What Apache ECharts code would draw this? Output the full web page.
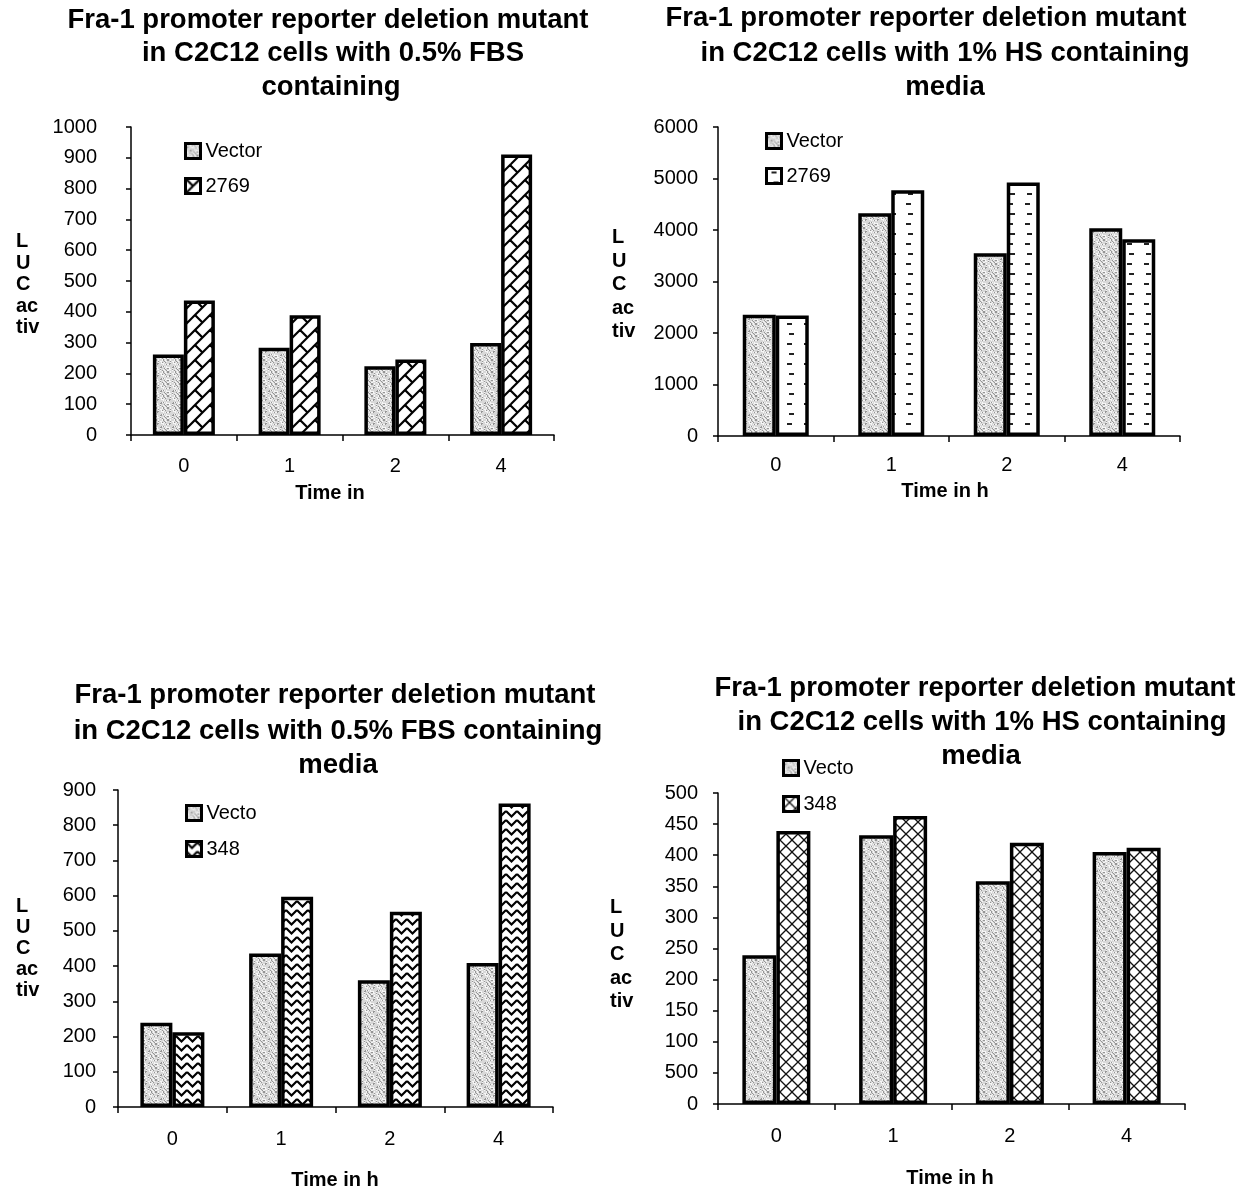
<!DOCTYPE html>
<html>
<head>
<meta charset="utf-8">
<title>Fra-1 promoter reporter deletion mutant</title>
<script src="https://cdn.jsdelivr.net/npm/echarts@6/dist/echarts.min.js"></script>
<style>
  html, body { margin: 0; padding: 0; background: #fff; }
  .panel { position: absolute; left: 0; top: 0; width: 1244px; height: 1191px; }
</style>
</head>
<body>
<div id="fbs2769" class="panel"></div>
<div id="hs2769" class="panel"></div>
<div id="fbs348" class="panel"></div>
<div id="hs348" class="panel"></div>

<script>
  // time points (h)
  var categories = ['0', '1', '2', '4']

  // 0.5% FBS, 2769 construct
  var fbs2769Vector = [261, 283, 223, 299]
  var fbs2769Mutant = [437, 389, 245, 911]
  // 1% HS, 2769 construct
  var hs2769Vector = [2355, 4323, 3548, 4032]
  var hs2769Mutant = [2342, 4774, 4923, 3819]
  // 0.5% FBS, 348 construct
  var fbs348Vector = [239, 436, 360, 409]
  var fbs348Mutant = [212, 597, 554, 862]
  // 1% HS, 348 construct
  var hs348Vector = [239, 432, 358, 405]
  var hs348Mutant = [439, 463, 420, 412]

  // the original prints "500" where 50 should be
  var hs348TickLabels = ['0', '500', '100', '150', '200', '250', '300', '350', '400', '450', '500']

  var FONT = '"Liberation Sans", Arial, sans-serif'

  // ---------- fill patterns ----------
  function canvasOf(w, h) {
    var c = document.createElement('canvas')
    c.width = w
    c.height = h
    var ctx = c.getContext('2d')
    ctx.fillStyle = '#fff'
    ctx.fillRect(0, 0, w, h)
    return c
  }

  function wrapLine(ctx, w, h, x1, y1, x2, y2) {
    for (var dx = -1; dx <= 1; dx++) {
      for (var dy = -1; dy <= 1; dy++) {
        ctx.beginPath()
        ctx.moveTo(x1 + dx * w, y1 + dy * h)
        ctx.lineTo(x2 + dx * w, y2 + dy * h)
        ctx.stroke()
      }
    }
  }

  // grey stipple used for the Vector bars
  function stipple() {
    var c = canvasOf(12, 12)
    var ctx = c.getContext('2d')
    ctx.fillStyle = '#d8d8d8'
    ctx.fillRect(0, 0, 12, 12)
    for (var y = 0; y < 12; y++) {
      for (var x = 0; x < 12; x++) {
        var k = (x * 7 + y * 13 + x * y * 3) % 11
        if (k === 0 || k === 5) {
          ctx.fillStyle = '#959595'
          ctx.fillRect(x, y, 1, 1)
        } else if (k === 3 || k === 8 || k === 9) {
          ctx.fillStyle = '#f6f6f6'
          ctx.fillRect(x, y, 1, 1)
        }
      }
    }
    return c
  }

  // diagonal brick
  function brick() {
    var W = 30
    var c = canvasOf(W, W)
    var ctx = c.getContext('2d')
    ctx.strokeStyle = '#000'
    ctx.lineWidth = 2.2
    for (var k = -W; k <= 3 * W; k += W / 2) {
      ctx.beginPath()
      ctx.moveTo(k + W, -W)
      ctx.lineTo(-W, k + W)
      ctx.stroke()
    }
    function seg(a, s) {
      wrapLine(ctx, W, W, (a - s) / 2, (a + s) / 2, (a + W / 2 - s) / 2, (a + W / 2 + s) / 2)
    }
    seg(0, 0)
    seg(0, W)
    seg(W / 2, W / 2)
    seg(W / 2, -W / 2)
    return c
  }

  // small dashes, staggered rows
  function dashes() {
    var c = canvasOf(17, 20)
    var ctx = c.getContext('2d')
    ctx.fillStyle = '#222'
    ctx.fillRect(5, 3, 5, 2)
    ctx.fillRect(7, 13, 5, 2)
    return c
  }

  // zigzag rows
  function zigzag() {
    var c = canvasOf(11, 9)
    var ctx = c.getContext('2d')
    ctx.strokeStyle = '#000'
    ctx.lineWidth = 2.2
    for (var dy = -9; dy <= 9; dy += 9) {
      ctx.beginPath()
      ctx.moveTo(0, 1 + dy)
      ctx.lineTo(5.5, 6.5 + dy)
      ctx.lineTo(11, 1 + dy)
      ctx.stroke()
    }
    return c
  }

  // cross hatch
  function crosshatch() {
    var W = 12
    var c = canvasOf(W, W)
    var ctx = c.getContext('2d')
    ctx.strokeStyle = '#111'
    ctx.lineWidth = 1.3
    wrapLine(ctx, W, W, 0, 0, W, W)
    wrapLine(ctx, W, W, W, 0, 0, W)
    return c
  }

  function pattern(c) {
    return { image: c, repeat: 'repeat' }
  }

  // ---------- one panel ----------
  function textEl(x, y, text, size, weight, align, lh) {
    return {
      type: 'text',
      x: x,
      y: y,
      silent: true,
      style: {
        text: text,
        fill: '#000',
        font: weight + ' ' + size + 'px ' + FONT,
        textAlign: align,
        textVerticalAlign: lh ? 'top' : 'middle',
        lineHeight: lh || size
      }
    }
  }

  function drawPanel(id, p) {
    var chart = echarts.init(document.getElementById(id))
    var graphic = []
    p.titles.forEach(function (t) {
      graphic.push(textEl(t[0], t[1], t[2], 27.5, 'bold', 'center'))
    })
    graphic.push(textEl(p.yName[0], p.yName[1], 'L\nU\nC\nac\ntiv', 20, 'bold', 'left', p.yName[2]))
    graphic.push(textEl(p.xName[0], p.xName[1], p.xName[2], 20, 'bold', 'center'))

    var option = {
      animation: false,
      grid: {
        left: p.grid[0], top: p.grid[1], width: p.grid[2], height: p.grid[3],
        outerBoundsMode: 'none'
      },
      legend: {
        orient: 'vertical',
        left: p.legend[0],
        top: p.legend[1],
        itemGap: p.legend[2],
        itemWidth: 15,
        itemHeight: 15,
        icon: 'rect',
        selectedMode: false,
        padding: 0,
        itemStyle: { borderColor: '#000', borderWidth: 3 },
        textStyle: { fontFamily: FONT, fontSize: 20, color: '#000', lineHeight: 15 },
        data: p.names
      },
      xAxis: {
        type: 'category',
        data: categories,
        axisLine: { lineStyle: { color: '#000', width: 1.5 } },
        axisTick: { show: true, length: 6, lineStyle: { color: '#000', width: 1.5 } },
        axisLabel: { color: '#000', fontFamily: FONT, fontSize: 20, margin: p.xMargin }
      },
      yAxis: {
        type: 'value',
        min: 0,
        max: p.max,
        interval: p.interval,
        splitLine: { show: false },
        axisLine: { show: true, lineStyle: { color: '#000', width: 1.5 } },
        axisTick: { show: true, length: 5, lineStyle: { color: '#000', width: 1.5 } },
        axisLabel: {
          color: '#000', fontFamily: FONT, fontSize: 20, margin: p.yMargin,
          formatter: function (v) {
            return p.tickLabels ? p.tickLabels[Math.round(v / p.interval)] : String(v)
          }
        }
      },
      series: p.values.map(function (vals, i) {
        return {
          name: p.names[i],
          type: 'bar',
          data: vals,
          barWidth: p.barWidth,
          barGap: '0%',
          emphasis: { disabled: true },
          itemStyle: { color: pattern(p.fills[i]), borderColor: '#000', borderWidth: 3.5 }
        }
      }),
      graphic: graphic
    }
    chart.setOption(option)
  }

  drawPanel('fbs2769', {
    grid: [131, 127, 423, 308],
    max: 1000, interval: 100, yMargin: 34, xMargin: 21, barWidth: 31,
    legend: [184, 141, 15],
    names: ['Vector', '2769'],
    values: [fbs2769Vector, fbs2769Mutant],
    fills: [stipple(), brick()],
    titles: [
      [328, 20, 'Fra-1 promoter reporter deletion mutant'],
      [333, 53, 'in C2C12 cells with 0.5% FBS'],
      [331, 87, 'containing']
    ],
    yName: [16, 231, 21.5],
    xName: [330, 493, 'Time in']
  })

  drawPanel('hs2769', {
    grid: [718, 127, 462, 309],
    max: 6000, interval: 1000, yMargin: 20, xMargin: 19, barWidth: 33,
    legend: [765, 131, 15],
    names: ['Vector', '2769'],
    values: [hs2769Vector, hs2769Mutant],
    fills: [stipple(), dashes()],
    titles: [
      [926, 18, 'Fra-1 promoter reporter deletion mutant'],
      [945, 53, 'in C2C12 cells with 1% HS containing'],
      [945, 87, 'media']
    ],
    yName: [612, 226, 23.5],
    xName: [945, 491, 'Time in h']
  })

  drawPanel('fbs348', {
    grid: [118, 790, 435, 317],
    max: 900, interval: 100, yMargin: 22, xMargin: 22, barWidth: 32,
    legend: [185, 803, 16],
    names: ['Vecto', '348'],
    values: [fbs348Vector, fbs348Mutant],
    fills: [stipple(), zigzag()],
    titles: [
      [335, 695, 'Fra-1 promoter reporter deletion mutant'],
      [338, 731, 'in C2C12 cells with 0.5% FBS containing'],
      [338, 765, 'media']
    ],
    yName: [16, 896, 21],
    xName: [335, 1180, 'Time in h']
  })

  drawPanel('hs348', {
    grid: [718, 793, 467, 311],
    max: 500, interval: 50, yMargin: 20, xMargin: 22, barWidth: 34,
    legend: [782, 758, 16],
    names: ['Vecto', '348'],
    values: [hs348Vector, hs348Mutant],
    fills: [stipple(), crosshatch()],
    tickLabels: hs348TickLabels,
    titles: [
      [975, 688, 'Fra-1 promoter reporter deletion mutant'],
      [982, 722, 'in C2C12 cells with 1% HS containing'],
      [981, 756, 'media']
    ],
    yName: [610, 896, 23.5],
    xName: [950, 1178, 'Time in h']
  })
</script>
</body>
</html>
